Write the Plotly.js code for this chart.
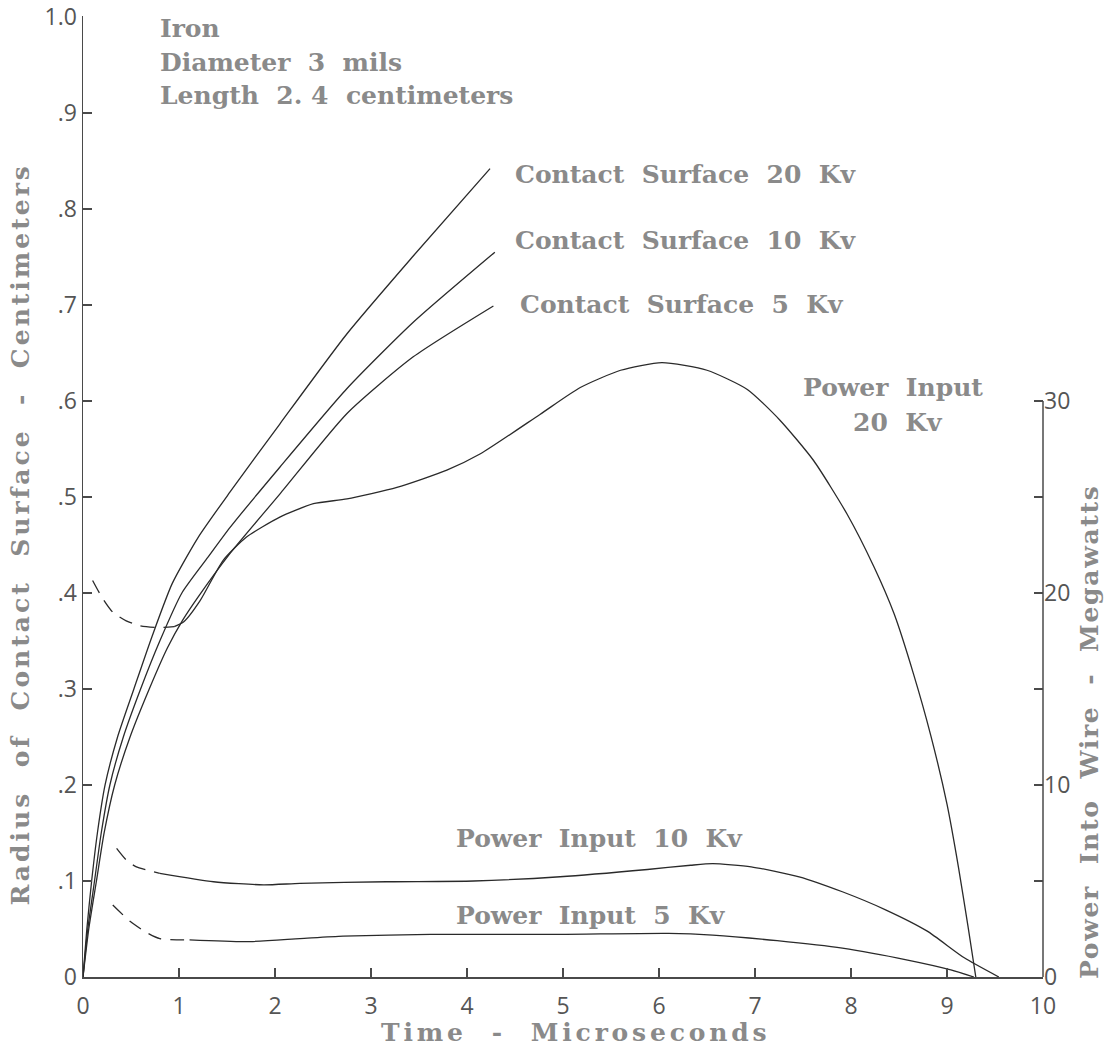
<!DOCTYPE html>
<html>
<head>
<meta charset="utf-8">
<script src="https://cdn.plot.ly/plotly-3.0.1.min.js"></script>
<style>
  html, body { margin: 0; padding: 0; background: #fff; }
  #chart { width: 1111px; height: 1047px; }
</style>
</head>
<body>
<div id="chart"></div>
<script>
// ---- Data (time in microseconds) ----
// Radius of contact surface (cm)
const cs20_x = [0, 0.04, 0.09, 0.15, 0.23, 0.36, 0.53, 0.72, 0.93, 1.20, 1.53, 2.05, 2.75, 3.44, 4.24];
const cs20_y = [0, 0.05, 0.10, 0.15, 0.20, 0.25, 0.30, 0.355, 0.41, 0.458, 0.505, 0.576, 0.670, 0.751, 0.842];
const cs10_x = [0, 0.05, 0.12, 0.19, 0.28, 0.42, 0.60, 0.80, 1.03, 1.30, 1.53, 2.05, 2.75, 3.44, 4.29];
const cs10_y = [0, 0.05, 0.10, 0.15, 0.20, 0.25, 0.30, 0.35, 0.40, 0.437, 0.468, 0.531, 0.613, 0.682, 0.755];
const cs5_x  = [0, 0.06, 0.14, 0.22, 0.33, 0.49, 0.69, 0.88, 1.04, 1.20, 1.53, 2.05, 2.75, 3.44, 4.275];
const cs5_y  = [0, 0.05, 0.10, 0.15, 0.20, 0.25, 0.30, 0.343, 0.372, 0.396, 0.441, 0.503, 0.587, 0.646, 0.699];

// Power into wire (megawatts) — early (dashed) and main (solid) portions
const p20_dash_x = [0.10, 0.20, 0.31, 0.45, 0.59, 0.80, 0.95];
const p20_dash_y = [20.65, 19.75, 19.0, 18.55, 18.3, 18.2, 18.25];
const p20_x = [0.95, 1.05, 1.22, 1.46, 1.70, 2.05, 2.40, 2.75, 3.27, 3.79, 4.14, 4.76, 5.18, 5.60, 6.03, 6.50, 6.92, 7.26, 7.61, 7.96, 8.24, 8.45, 8.65, 8.83, 9.00, 9.12, 9.22, 9.30];
const p20_y = [18.25, 18.5, 19.6, 21.7, 22.9, 23.95, 24.65, 24.9, 25.5, 26.4, 27.25, 29.3, 30.7, 31.6, 32.0, 31.6, 30.6, 29.0, 26.9, 24.1, 21.35, 18.9, 15.8, 12.6, 9.0, 5.7, 2.6, 0];

const p10_dash_x = [0.35, 0.45, 0.55, 0.80];
const p10_dash_y = [6.7, 6.1, 5.75, 5.4];
const p10_x = [0.80, 1.36, 1.88, 2.26, 3.16, 4.07, 4.97, 5.88, 6.33, 6.56, 6.96, 7.46, 7.91, 8.36, 8.79, 9.18, 9.54];
const p10_y = [5.4, 4.96, 4.8, 4.875, 4.96, 5.0, 5.22, 5.6, 5.82, 5.9, 5.74, 5.22, 4.44, 3.5, 2.4, 1.0, 0];

const p5_dash_x = [0.31, 0.49, 0.65, 0.80, 1.11];
const p5_dash_y = [3.75, 2.9, 2.35, 2.0, 1.93];
const p5_x = [1.11, 1.70, 2.26, 2.71, 3.62, 4.97, 6.10, 6.56, 7.23, 7.91, 8.59, 9.04, 9.28];
const p5_y = [1.93, 1.84, 2.0, 2.13, 2.22, 2.22, 2.27, 2.18, 1.89, 1.5, 0.88, 0.37, 0];

// Tick labels
const xTickVals = [0,1,2,3,4,5,6,7,8,9,10];
const xTickText = ['0','1','2','3','4','5','6','7','8','9','10'];
const yTickVals = [0,0.1,0.2,0.3,0.4,0.5,0.6,0.7,0.8,0.9,1.0];
const yTickText = ['0','.1','.2','.3','.4','.5','.6','.7','.8','.9','1.0'];
const y2TickVals = [0,5,10,15,20,25,30];
const y2TickText = ['0','','10','','20','','30'];

// ---- Styling ----
const LINE = '#2a2a2a';
const AX = '#4a4a4a';
const TXT = '#8a8a8a';
const SERIF = '"DejaVu Serif", "Liberation Serif", serif';
const SANS = '"Open Sans", "DejaVu Sans", sans-serif';

function solid(x, y, axis) {
  return {x, y, yaxis: axis, type: 'scatter', mode: 'lines', hoverinfo: 'skip',
          line: {color: LINE, width: 1.3, shape: 'spline', smoothing: 0.6}};
}
function dashed(x, y, axis) {
  return {x, y, yaxis: axis, type: 'scatter', mode: 'lines', hoverinfo: 'skip',
          line: {color: LINE, width: 1.3, shape: 'spline', smoothing: 0.6, dash: '14px,9px'}};
}

const traces = [
  solid(cs20_x, cs20_y, 'y'),
  solid(cs10_x, cs10_y, 'y'),
  solid(cs5_x, cs5_y, 'y'),
  dashed(p20_dash_x, p20_dash_y, 'y2'),
  solid(p20_x, p20_y, 'y2'),
  dashed(p10_dash_x, p10_dash_y, 'y2'),
  solid(p10_x, p10_y, 'y2'),
  dashed(p5_dash_x, p5_dash_y, 'y2'),
  solid(p5_x, p5_y, 'y2')
];

const LABEL_FONT = {family: SERIF, size: 25, color: TXT, weight: 'bold'};

function label(text, x, y, xanchor) {
  return {text, x, y, xref: 'x', yref: 'y', xanchor: xanchor || 'left', yanchor: 'middle',
          showarrow: false, font: LABEL_FONT};
}
function spaced(text, px) {
  return '<span style="letter-spacing:' + px + 'px">' + text + '</span>';
}

const annotations = [
  label('Iron', 0.78, 0.9875),
  label('Diameter  3  mils', 0.78, 0.9524),
  label('Length  2. 4  centimeters', 0.78, 0.9178),
  label('Contact  Surface  20  Kv', 4.48, 0.836),
  label('Contact  Surface  10  Kv', 4.48, 0.7676),
  label('Contact  Surface  5  Kv', 4.53, 0.701),
  label('Power  Input', 8.44, 0.614, 'center'),
  label('20  Kv', 8.49, 0.578, 'center'),
  label('Power  Input  10  Kv', 3.865, 0.1446),
  label('Power  Input  5  Kv', 3.865, 0.0645),
  // axis titles
  {text: spaced('Time  -  Microseconds', 3.8), xref: 'paper', yref: 'paper',
   x: 0.5125, xanchor: 'center', y: -0.0575, yanchor: 'middle', showarrow: false,
   font: LABEL_FONT},
  {text: spaced('Radius  of  Contact  Surface  -  Centimeters', 3), xref: 'paper', yref: 'paper',
   x: -0.065, xanchor: 'center', y: 0.46, yanchor: 'middle', textangle: -90, showarrow: false,
   font: LABEL_FONT},
  {text: spaced('Power  Into  Wire  -  Megawatts', 1.7), xref: 'paper', yref: 'paper',
   x: 1.049, xanchor: 'center', y: 0.255, yanchor: 'middle', textangle: -90, showarrow: false,
   font: LABEL_FONT}
];

const layout = {
  width: 1111, height: 1047,
  margin: {l: 83, r: 68, t: 16, b: 70},
  paper_bgcolor: '#ffffff', plot_bgcolor: '#ffffff',
  showlegend: false,
  xaxis: {
    range: [0, 10], showgrid: false, zeroline: false,
    showline: true, linecolor: AX, linewidth: 1.5,
    ticks: 'inside', ticklen: 9, tickwidth: 1.5, tickcolor: AX,
    tickmode: 'array', tickvals: xTickVals, ticktext: xTickText,
    ticklabelstandoff: 8,
    tickfont: {family: SANS, size: 23, color: '#555'}
  },
  yaxis: {
    range: [0, 1.001], showgrid: false, zeroline: false,
    showline: true, linecolor: AX, linewidth: 1.5,
    ticks: 'inside', ticklen: 9, tickwidth: 1.5, tickcolor: AX,
    tickmode: 'array', tickvals: yTickVals, ticktext: yTickText,
    tickfont: {family: SANS, size: 23, color: '#555'}
  },
  yaxis2: {
    range: [0, 50.05], overlaying: 'y', side: 'right', anchor: 'x',
    showgrid: false, zeroline: false, showline: false,
    ticks: 'inside', ticklen: 9, tickwidth: 1.5, tickcolor: AX,
    tickmode: 'array', tickvals: y2TickVals, ticktext: y2TickText,
    tickfont: {family: SANS, size: 23, color: '#555'}
  },
  shapes: [
    {type: 'line', xref: 'paper', x0: 1, x1: 1, yref: 'y2', y0: 0, y1: 30,
     line: {color: AX, width: 1.5}}
  ],
  annotations: annotations
};

Plotly.newPlot('chart', traces, layout, {displayModeBar: false, staticPlot: true});
</script>
</body>
</html>
